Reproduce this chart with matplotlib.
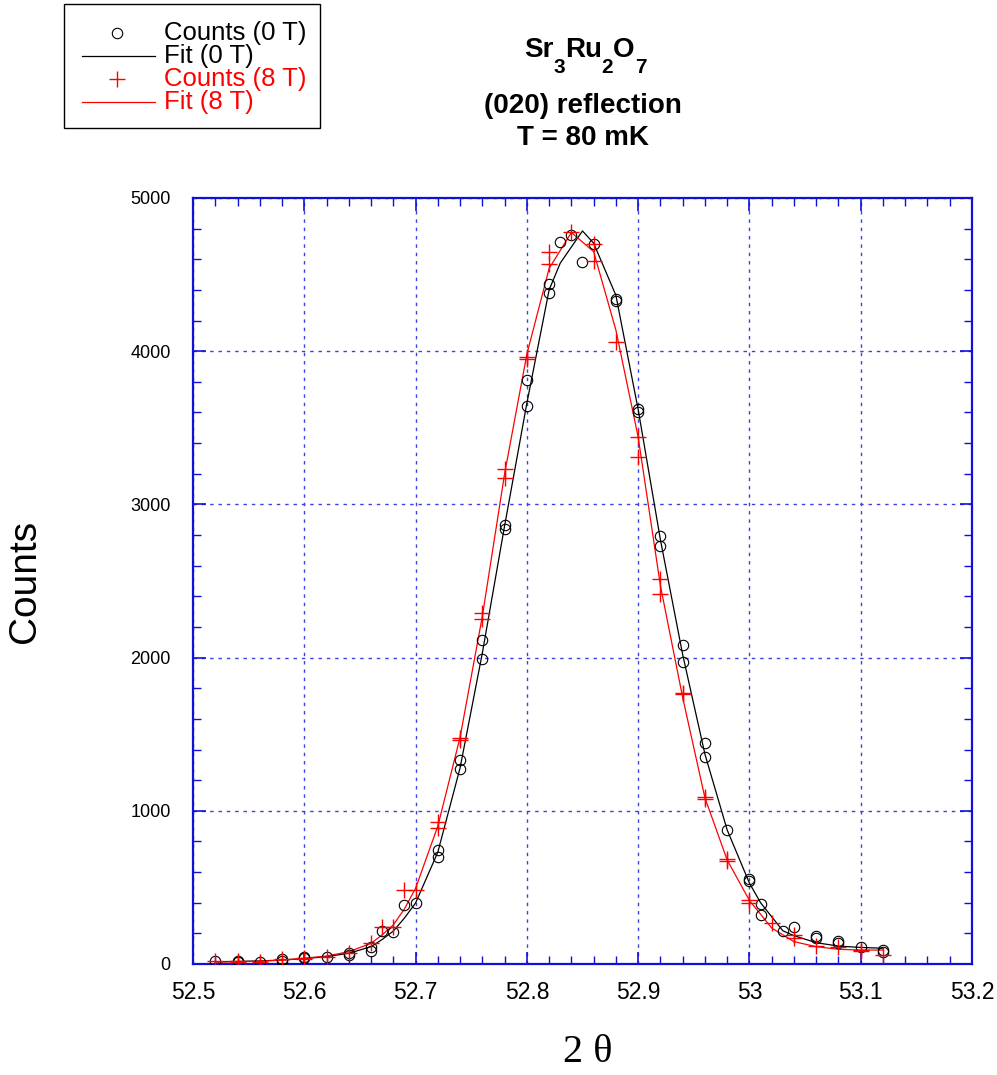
import matplotlib
matplotlib.use("Agg")
import matplotlib.pyplot as plt
from matplotlib.lines import Line2D
from matplotlib.patches import Rectangle
from matplotlib.ticker import MultipleLocator, FuncFormatter

# ---------------- data ----------------
x_counts_0T = [52.52, 52.54, 52.54, 52.56, 52.58, 52.58, 52.60, 52.60, 52.62, 52.64,
               52.64, 52.66, 52.66, 52.67, 52.68, 52.69, 52.70, 52.72, 52.72, 52.74,
               52.74, 52.76, 52.76, 52.78, 52.78, 52.80, 52.80, 52.82, 52.82, 52.83,
               52.84, 52.85, 52.86, 52.88, 52.88, 52.90, 52.90, 52.92, 52.92, 52.94,
               52.94, 52.96, 52.96, 52.98, 53.00, 53.00, 53.01, 53.01, 53.03, 53.04,
               53.06, 53.06, 53.08, 53.08, 53.10, 53.12, 53.12]
y_counts_0T = [22, 20, 15, 15, 35, 22, 37, 46, 44, 70,
               60, 113, 87, 217, 206, 385, 400, 744, 696, 1332,
               1273, 2115, 1989, 2865, 2840, 3810, 3642, 4437, 4378, 4713,
               4758, 4584, 4700, 4340, 4330, 3623, 3603, 2794, 2728, 2082,
               1973, 1443, 1351, 875, 553, 544, 391, 320, 217, 244,
               183, 170, 150, 139, 113, 91, 80]

x_counts_8T = [52.52, 52.54, 52.54, 52.56, 52.58, 52.60, 52.60, 52.62, 52.64, 52.66,
               52.67, 52.68, 52.69, 52.70, 52.72, 52.72, 52.74, 52.74, 52.76, 52.76,
               52.78, 52.78, 52.80, 52.80, 52.82, 52.82, 52.84, 52.86, 52.86, 52.88,
               52.90, 52.90, 52.92, 52.92, 52.94, 52.94, 52.96, 52.96, 52.98, 52.98,
               53.00, 53.00, 53.02, 53.04, 53.04, 53.06, 53.08, 53.10, 53.10, 53.12]
y_counts_8T = [20, 20, 15, 12, 35, 40, 30, 45, 70, 135,
               243, 243, 483, 483, 929, 885, 1473, 1460, 2289, 2250,
               3229, 3170, 3965, 3950, 4650, 4567, 4775, 4697, 4590, 4058,
               3438, 3307, 2511, 2413, 1770, 1760, 1092, 1077, 685, 675,
               418, 398, 270, 189, 170, 117, 109, 91, 85, 59]

x_fit_0T = [52.52, 52.54, 52.56, 52.58, 52.60, 52.62, 52.64, 52.66, 52.67, 52.68,
            52.69, 52.70, 52.72, 52.74, 52.76, 52.78, 52.80, 52.82, 52.83, 52.85,
            52.86, 52.88, 52.90, 52.92, 52.94, 52.96, 52.98, 53.00, 53.01, 53.03,
            53.04, 53.06, 53.08, 53.10, 53.12]
y_fit_0T = [15, 17, 20, 26, 35, 48, 70, 113, 160, 215,
            300, 398, 730, 1280, 2030, 2860, 3660, 4400, 4575, 4785,
            4705, 4365, 3620, 2770, 2020, 1370, 875, 528, 400, 217,
            185, 139, 117, 108, 103]

x_fit_8T = [52.52, 52.54, 52.56, 52.58, 52.60, 52.62, 52.64, 52.66, 52.67, 52.68,
            52.69, 52.70, 52.72, 52.74, 52.76, 52.78, 52.80, 52.82, 52.84, 52.86,
            52.88, 52.90, 52.92, 52.94, 52.96, 52.98, 53.00, 53.02, 53.04, 53.06,
            53.08, 53.10, 53.12]
y_fit_8T = [12, 15, 18, 25, 38, 52, 80, 135, 190, 255,
            360, 494, 900, 1480, 2270, 3200, 3980, 4540, 4775, 4650,
            4138, 3440, 2470, 1740, 1085, 679, 415, 235, 146, 113,
            96, 91, 91]

legend_labels = ["Counts (0 T)", "Fit (0 T)", "Counts (8 T)", "Fit (8 T)"]
title_lines = ["(020) reflection", "T = 80 mK"]

# ---------------- figure ----------------
plt.rcParams['font.family'] = ['Liberation Sans', 'DejaVu Sans']
W, H = 997, 1075
fig = plt.figure(figsize=(W / 100, H / 100), dpi=100)

def fx(px):
    return px / W

def fy(py):
    return 1 - py / H

ax = fig.add_axes([fx(193), fy(964), fx(972) - fx(193), fy(198) - fy(964)])

BLUE = '#1010d8'
ax.grid(True, which='major', color='#4040e0', linestyle=(0, (2.5, 3.5)), linewidth=1.0)
ax.set_axisbelow(True)

ax.plot(x_fit_0T, y_fit_0T, color='black', linewidth=0.9, zorder=3)
ax.plot(x_fit_8T, y_fit_8T, color='red', linewidth=0.9, zorder=3)
ax.plot(x_counts_0T, y_counts_0T, linestyle='none', marker='o', markersize=7.5,
        markerfacecolor='none', markeredgecolor='black', markeredgewidth=0.8, zorder=4)
ax.plot(x_counts_8T, y_counts_8T, linestyle='none', marker='+', markersize=11,
        markeredgecolor='red', markeredgewidth=1.0, zorder=5)

ax.set_xlim(52.5, 53.2)
ax.set_ylim(0, 5000)
ax.xaxis.set_major_locator(MultipleLocator(0.1))
ax.xaxis.set_minor_locator(MultipleLocator(0.02))
ax.yaxis.set_major_locator(MultipleLocator(1000))
ax.yaxis.set_minor_locator(MultipleLocator(200))
ax.xaxis.set_major_formatter(FuncFormatter(lambda v, p: '%g' % round(v, 2)))
ax.yaxis.set_major_formatter(FuncFormatter(lambda v, p: '%d' % round(v)))

for s in ax.spines.values():
    s.set_color(BLUE)
    s.set_linewidth(1.6)
ax.tick_params(which='both', direction='in', top=True, right=True, color=BLUE)
ax.tick_params(which='major', length=9, width=1.2)
ax.tick_params(which='minor', length=6, width=1.0)
ax.tick_params(axis='x', which='major', labelsize=16.5, pad=12, labelcolor='black')
ax.tick_params(axis='y', which='major', labelsize=13, pad=16, labelcolor='black')

fig.text(fx(25), fy(581), "Counts", rotation=90, fontsize=28, ha='center', va='center')
fig.text(fx(588), fy(1052), "2 θ", fontsize=29, ha='center', va='center',
         family=['Liberation Serif', 'DejaVu Serif'])

# ---------------- title ----------------
renderer = fig.canvas.get_renderer()
pieces = [("Sr", 20, 0), ("3", 15, -16), ("Ru", 20, 0), ("2", 15, -16), ("O", 20, 0), ("7", 15, -16)]
widths = []
for txt, sz, dy in pieces:
    t = fig.text(0, 0, txt, fontsize=sz, fontweight='bold')
    widths.append(t.get_window_extent(renderer).width)
    t.remove()
total = sum(widths)
x0 = 585 - total / 2
for (txt, sz, dy), w in zip(pieces, widths):
    fig.text(fx(x0), fy(57 - dy), txt, fontsize=sz, fontweight='bold', ha='left', va='baseline')
    x0 += w
fig.text(fx(583), fy(113), title_lines[0], fontsize=20, fontweight='bold', ha='center', va='baseline')
fig.text(fx(583), fy(145), title_lines[1], fontsize=20, fontweight='bold', ha='center', va='baseline')

# ---------------- legend (manual) ----------------
fig.add_artist(Rectangle((fx(64), fy(128)), fx(320) - fx(64), fy(4) - fy(128),
                         transform=fig.transFigure, fill=False, edgecolor='black', linewidth=1.0))
rows = [33, 56, 79, 102]
colors = ['black', 'black', 'red', 'red']
fig.add_artist(Line2D([fx(117)], [fy(rows[0])], transform=fig.transFigure, linestyle='none',
                      marker='o', markersize=7.5, markerfacecolor='none', markeredgecolor='black',
                      markeredgewidth=0.8))
fig.add_artist(Line2D([fx(82), fx(155)], [fy(rows[1]), fy(rows[1])], transform=fig.transFigure,
                      color='black', linewidth=0.9))
fig.add_artist(Line2D([fx(117)], [fy(rows[2])], transform=fig.transFigure, linestyle='none',
                      marker='+', markersize=11, markeredgecolor='red', markeredgewidth=1.0))
fig.add_artist(Line2D([fx(82), fx(155)], [fy(rows[3]), fy(rows[3])], transform=fig.transFigure,
                      color='red', linewidth=0.9))
for lab, r, c in zip(legend_labels, rows, colors):
    fig.text(fx(164), fy(r), lab, fontsize=18.5, color=c, ha='left', va='center')

fig.savefig("out.png", dpi=100)
